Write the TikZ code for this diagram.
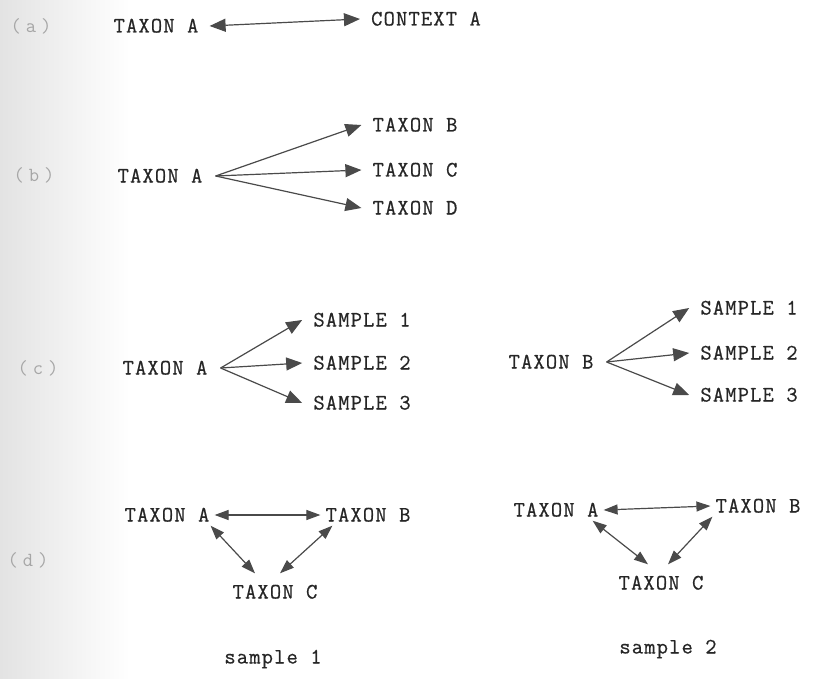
\documentclass[tikz,border=0pt]{standalone}
\usepackage{fontspec}
\setmonofont{Latin Modern Mono}[LetterSpace=5, FakeBold=0.6]
\newfontfamily\partfont{Latin Modern Mono}[LetterSpace=25]
\usetikzlibrary{arrows.meta}
\definecolor{ink}{HTML}{262626}
\definecolor{arr}{HTML}{4A4A4A}
\begin{document}
\begin{tikzpicture}[x=1pt,y=-1pt,
  lbl/.style={font=\ttfamily\fontsize{22}{22}\selectfont, text=ink, text height=13pt, text depth=0pt, inner xsep=11pt, inner ysep=4pt},
  dlbl/.style={lbl, inner xsep=5pt},
  part/.style={font=\partfont\fontsize{20}{20}\selectfont, text=black!35, text height=12pt, text depth=0pt},
  big/.style={draw=arr, line width=1.2pt, -{Triangle[length=16pt,width=13pt]}},
  bigboth/.style={draw=arr, line width=1.2pt, {Triangle[length=16pt,width=13pt]}-{Triangle[length=16pt,width=13pt]}},
  small/.style={draw=arr, line width=1.2pt, {Triangle[length=14pt,width=10pt]}-{Triangle[length=14pt,width=10pt]}}
]
\useasboundingbox (0,0) rectangle (813,679);
\fill[white] (0,0) rectangle (813,679);
\shade[left color=black!11, right color=white] (0,0) rectangle (130,679);

% (a)
\node[part] (la) at (31,27) {(a)};
\node[lbl] (aA) at (156,26) {TAXON A};
\node[lbl] (aC) at (426,19) {CONTEXT A};
\draw[bigboth] (aA.east) -- (aC.west);

% (b)
\node[part] (lb) at (34,176) {(b)};
\node[lbl, inner xsep=13pt] (bA) at (160,176) {TAXON A};
\node[lbl] (bB) at (415,125) {TAXON B};
\node[lbl] (bC) at (415,170) {TAXON C};
\node[lbl] (bD) at (415,208) {TAXON D};
\draw[big] (bA.east) -- (bB.west);
\draw[big] (bA.east) -- (bC.west);
\draw[big] (bA.east) -- (bD.west);

% (c)
\node[part] (lc) at (38,368) {(c)};
\node[lbl, inner xsep=13pt] (cA) at (165,368) {TAXON A};
\node[lbl] (cS1) at (362,320) {SAMPLE 1};
\node[lbl] (cS2) at (362,363) {SAMPLE 2};
\node[lbl] (cS3) at (362,403) {SAMPLE 3};
\draw[big] (cA.east) -- (cS1.west);
\draw[big] (cA.east) -- (cS2.west);
\draw[big] (cA.east) -- (cS3.west);

\node[lbl, inner xsep=13pt] (cB) at (551,362) {TAXON B};
\node[lbl] (cT1) at (749,308) {SAMPLE 1};
\node[lbl] (cT2) at (749,353) {SAMPLE 2};
\node[lbl] (cT3) at (749,395) {SAMPLE 3};
\draw[big] (cB.east) -- (cT1.west);
\draw[big] (cB.east) -- (cT2.west);
\draw[big] (cB.east) -- (cT3.west);

% (d)
\node[part] (ld) at (28,560) {(d)};
\node[dlbl] (dA) at (167,515) {TAXON A};
\node[dlbl] (dB) at (368,515) {TAXON B};
\node[dlbl, inner ysep=12pt] (dC) at (275,592) {TAXON C};
\node[lbl] (s1) at (273,657) {sample 1};
\draw[small] (dA.east) -- (dB.west);
\draw[small] ([xshift=-4pt]dA.south east) -- ([xshift=-20pt]dC.north);
\draw[small] ([xshift=12pt]dB.south west) -- ([xshift=5pt]dC.north);

\node[dlbl] (eA) at (556,510) {TAXON A};
\node[dlbl] (eB) at (758,506) {TAXON B};
\node[dlbl, inner ysep=12pt] (eC) at (661,583) {TAXON C};
\node[lbl] (s2) at (668,647) {sample 2};
\draw[small] (eA.east) -- (eB.west);
\draw[small] ([xshift=-11pt]eA.south east) -- ([xshift=-13pt]eC.north);
\draw[small] ([xshift=2pt]eB.south west) -- ([xshift=7pt]eC.north);
\end{tikzpicture}
\end{document}
